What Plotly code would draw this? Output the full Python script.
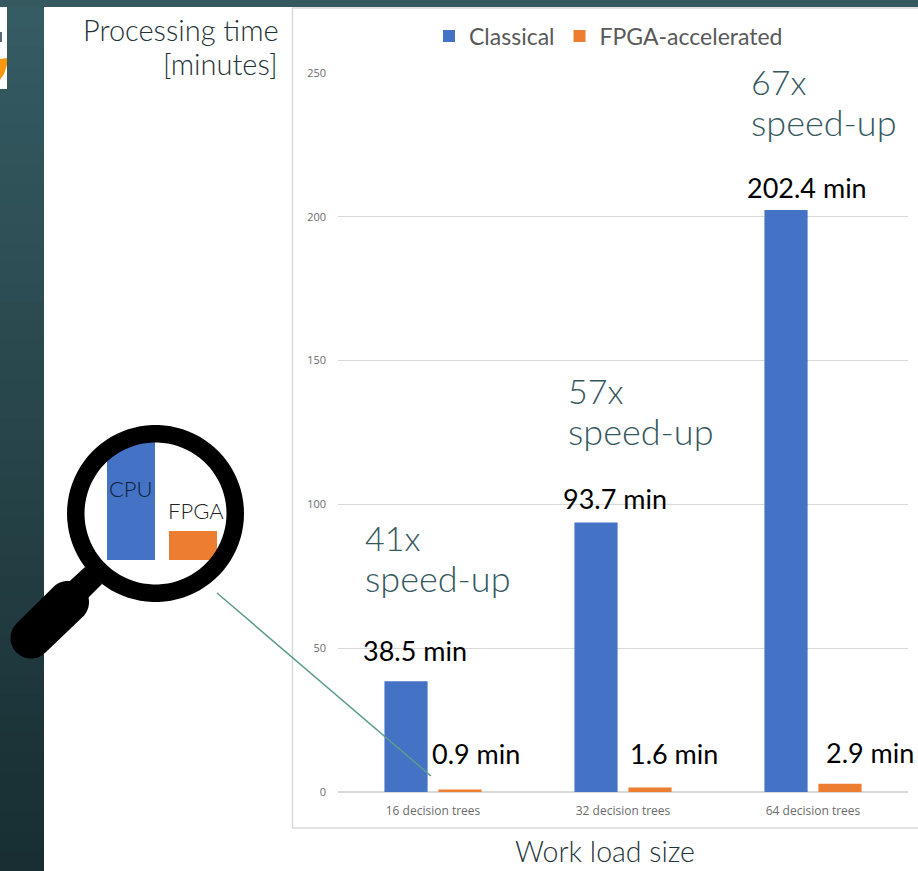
import math
import plotly.graph_objects as go

categories = ["16 decision trees", "32 decision trees", "64 decision trees"]
classical = [38.5, 93.7, 202.4]
fpga = [0.9, 1.6, 2.9]
y_ticks = [0, 50, 100, 150, 200, 250]
series_names = ["Classical", "FPGA-accelerated"]
value_labels = ["38.5 min", "0.9 min", "93.7 min", "1.6 min", "202.4 min", "2.9 min"]
speedups = ["41x", "57x", "67x"]

W, H = 918, 871
L, R, T, B = 338, 10, 73, 79
BLUE, ORANGE = "#4472c4", "#ed7d31"
TEAL = "#36595f"
FONT = "Lato"


def px(x):
    return (x - L) / (W - L - R)


def py(y):
    return (H - B - y) / (H - T - B)


def rect(x0, y0, x1, y1, color, line=None, width=0):
    return dict(type="rect", xref="paper", yref="paper", x0=px(x0), x1=px(x1), y0=py(y0), y1=py(y1),
                fillcolor=color, line=dict(color=line or color, width=width), layer="above")


def poly(points, color):
    d = "M " + " L ".join(f"{px(a):.5f},{py(b):.5f}" for a, b in points) + " Z"
    return dict(type="path", xref="paper", yref="paper", path=d, fillcolor=color,
                line=dict(width=0), layer="above")


def arc(cx, cy, r, a0, a1, n=40):
    return [(cx + r * math.cos(math.radians(a0 + (a1 - a0) * i / n)),
             cy + r * math.sin(math.radians(a0 + (a1 - a0) * i / n))) for i in range(n + 1)]


shapes = []
# chart frame and white slide
frame = dict(type="rect", xref="paper", yref="paper", x0=px(292.5), x1=px(930), y0=py(828), y1=py(8),
             fillcolor="rgba(0,0,0,0)", line=dict(color="#d9d9d9", width=1.5), layer="below")
shapes.append(frame)
# left gradient panel
steps = 44
for i in range(steps):
    t = i / (steps - 1)
    c = f"rgb({int(54 - 30 * t)},{int(92 - 46 * t)},{int(99 - 49 * t)})"
    shapes.append(rect(0, 7 + (H - 7) * i / steps, 44, 7 + (H - 7) * (i + 1) / steps + 1, c))
shapes.append(rect(0, 0, W, 7, TEAL))
# logo remnant
shapes.append(rect(0, 7, 7, 89, "#ffffff"))
shapes.append(poly([(0, 59), (7, 58), (7, 65), (4, 74), (0, 80)], "#f7960f"))
shapes.append(rect(0, 32, 2, 42, "#5a6a7a"))
# magnifier
cx, cy = 155.5, 513.5
shapes.append(rect(107, 442, 155, 560, BLUE))
shapes.append(rect(169, 531, 217, 560, ORANGE))
ring = arc(cx, cy, 88.5, 0, 360, 90) + arc(cx, cy, 71, 360, 0, 90)
shapes.append(poly(ring, "#000000"))
shapes.append(poly([(85, 567), (102, 584), (82, 604), (60, 590)], "#000000"))
grip = arc(31, 638, 20.5, 45, 225) + arc(68, 602, 21, 225, 405)
shapes.append(poly(grip, "#000000"))
# connector
shapes.append(dict(type="line", xref="paper", yref="paper", x0=px(217), y0=py(593), x1=px(431), y1=py(776),
                   line=dict(color="#5b9c8e", width=1.5), layer="above"))

annotations = []


def text(s, x, y, size, color, anchor="left", weight=300):
    annotations.append(dict(text=s, xref="paper", yref="paper", x=px(x), y=py(y), showarrow=False,
                            xanchor=anchor, yanchor="middle", align=anchor,
                            font=dict(family=FONT, size=size, color=color, weight=weight)))


DARK = "#1f3438"
text("Processing time", 281, 30, 29, DARK, "right")
text("[minutes]", 280, 63, 29, DARK, "right")
text("Work load size", 605, 851, 28.5, DARK, "center")
for s, (x, y) in zip(value_labels, [(361, 650), (430, 753), (561, 499), (628, 753), (745, 187), (824, 752)]):
    text(s, x, y, 27, "#000000", weight=400)
for s, (x, y) in zip(speedups, [(363, 537), (566, 390), (749, 81)]):
    text(s, x, y, 34, "#36595f")
    text("speed-up", x, y + 41, 36, "#36595f")
text("CPU", 131, 488, 22, "#10203a", "center")
text("FPGA", 196, 510, 22, "#222222", "center")

fig = go.Figure()
fig.add_bar(x=categories, y=classical, name=series_names[0], marker=dict(color=BLUE, line=dict(width=0)))
fig.add_bar(x=categories, y=fpga, name=series_names[1], marker=dict(color=ORANGE, line=dict(width=0)))
fig.update_layout(
    width=W, height=H, margin=dict(l=L, r=R, t=T, b=B), paper_bgcolor="#ffffff", plot_bgcolor="#ffffff",
    barmode="group", bargap=0.432, bargroupgap=0.2,
    legend=dict(orientation="h", x=px(429), y=py(36), xanchor="left", yanchor="middle",
                font=dict(family=FONT, size=23, color="#595959", weight=400), itemwidth=30,
                bgcolor="rgba(0,0,0,0)"),
    shapes=shapes, annotations=annotations,
    xaxis=dict(tickfont=dict(family="Open Sans", size=12, color="#6b6b6b"), showline=False, ticks="",
               ticklabelstandoff=10),
    yaxis=dict(range=[0, 250], tickvals=y_ticks, gridcolor="#d9d9d9", gridwidth=1, zeroline=True,
               zerolinecolor="#d9d9d9", zerolinewidth=1.5,
               tickfont=dict(family="Open Sans", size=11, color="#6b6b6b"), showline=False, ticks="",
               ticklabelstandoff=11),
)
fig.write_html("out.html", config={"displayModeBar": False}, post_script="document.body.style.margin='0';")
